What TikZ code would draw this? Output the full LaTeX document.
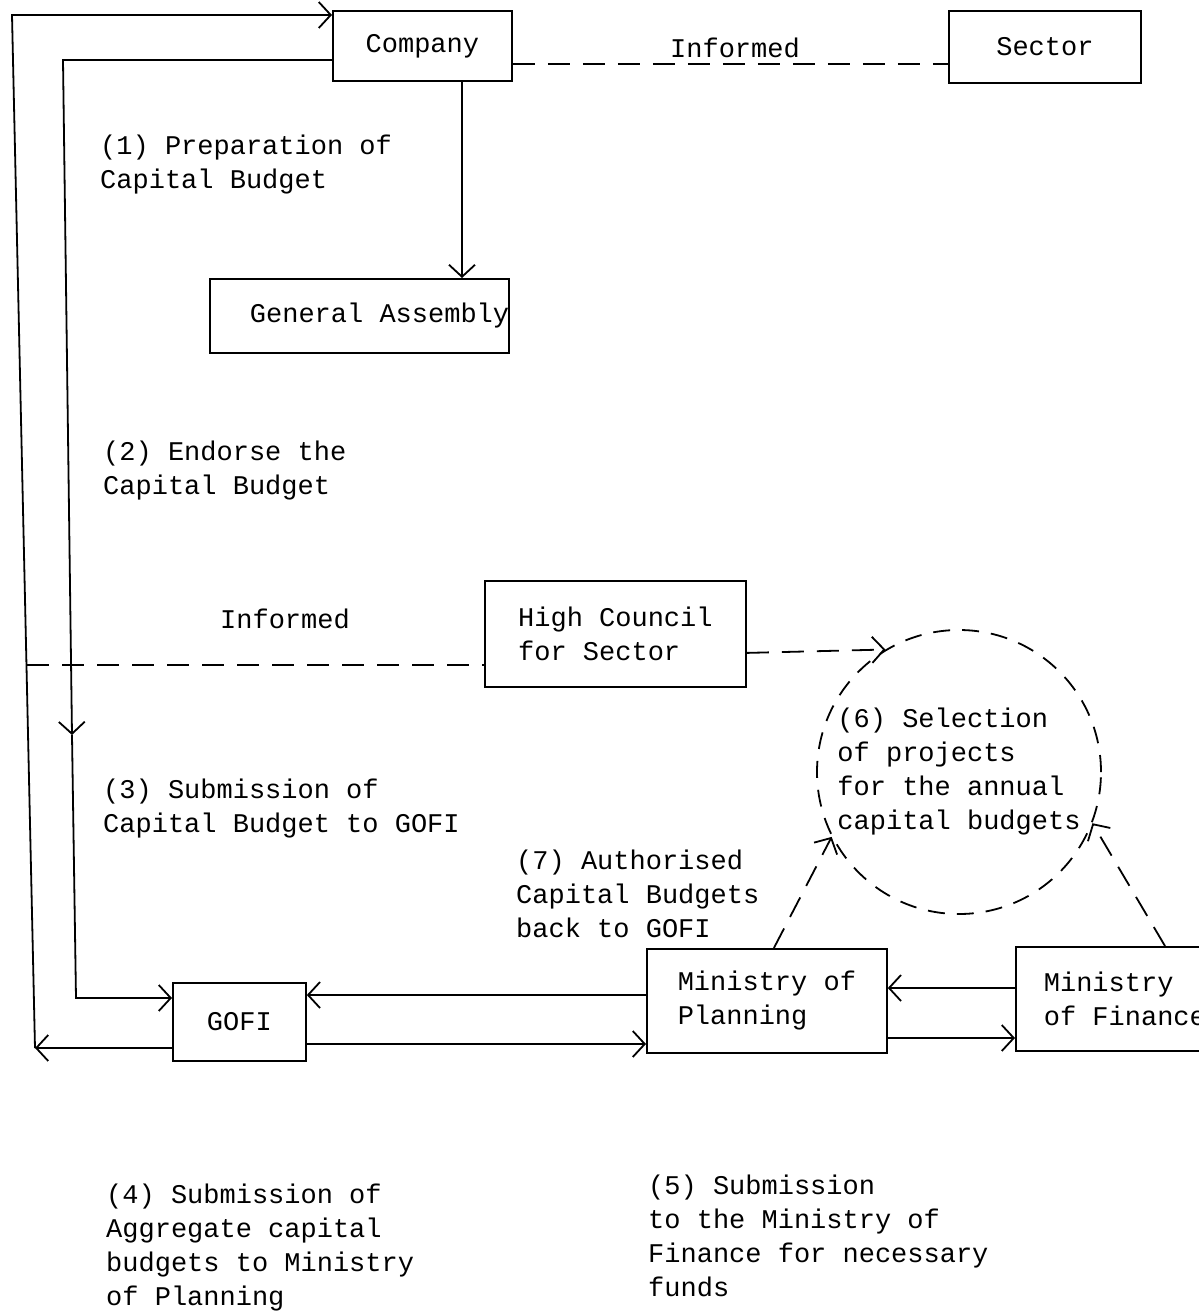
\documentclass[tikz,border=0pt]{standalone}
\usepackage{fontspec}
\setmonofont{Liberation Mono}
\usetikzlibrary{arrows.meta}
\begin{document}
\begin{tikzpicture}[x=1pt,y=-1pt,
  font=\ttfamily\fontsize{27pt}{34pt}\selectfont,
  box/.style={draw, line width=1.8pt, inner sep=0pt, anchor=north west, align=left},
  tip/.style={-{Straight Barb[length=12pt, width=26pt, line width=1.8pt]}},
  arr/.style={line width=1.8pt, tip},
  dsh/.style={line width=1.8pt, dash pattern=on 22pt off 13pt},
  dsharr/.style={dsh, tip},
  lbl/.style={anchor=base west, align=left, inner sep=0pt}]
\useasboundingbox (0,0) rectangle (1199,1315);

% organisations
\node[box, minimum width=179pt, minimum height=70pt] (company) at (332,10) {Company};
\node[box, minimum width=192pt, minimum height=72pt] (sector) at (948,10) {Sector};
\node[box, minimum width=299pt, minimum height=74pt] (ga) at (209,278) {\hspace*{40pt}General Assembly};
\node[box, minimum width=261pt, minimum height=106pt] (hc) at (484,580) {High Council\\for Sector};
\node[box, minimum width=133pt, minimum height=78pt] (gofi) at (172,982) {GOFI};
\node[box, minimum width=240pt, minimum height=104pt] (mop) at (646,948) {Ministry of\\Planning};
\node[box, minimum width=218pt, minimum height=104pt] (mof) at (1015,946) {Ministry\\of Finance};
\node[draw, circle, inner sep=0pt, minimum size=284pt, line width=1.8pt, dash pattern=on 17pt off 12pt, align=left] (sel) at (959,772)
  {(6) Selection\\of projects\\for the annual\\capital budgets};

% helper points of the two loops on the left
\coordinate (oTop) at (12,15);
\coordinate (oBot) at (35,1048);
\coordinate (iTop) at (63,60);
\coordinate (iMid) at (72,735);
\coordinate (iBot) at (76,998);
\coordinate (dL) at (27,665);
\coordinate (cg) at (462,0);
\coordinate (gt) at (0,995);
\coordinate (gb) at (0,1044);
\coordinate (ft) at (0,988);
\coordinate (fb) at (0,1038);

% company -> general assembly
\draw[arr] (company.south -| cg) -- (ga.north -| cg);
% company informs sector
\draw[dsh] ([yshift=-18pt]company.east) -- ([yshift=-18pt]company.east -| sector.west);
\node[anchor=base, inner sep=0pt] (inf1) at (735,57) {Informed};

% inner loop: company -> gofi
\draw[arr] (company.west |- iTop) -- (iTop) -- (iMid);
\draw[arr] (iMid) -- (iBot) -- (gofi.west |- iBot);
% outer loop: gofi -> company
\draw[arr] (gofi.west |- oBot) -- (oBot);
\draw[arr] (oBot) -- (oTop) -- (company.west |- oTop);

% high council informed
\draw[dsh] (dL) -- (hc.west |- dL);
\node[anchor=base, inner sep=0pt] (inf2) at (285,628) {Informed};
\draw[dsharr] ([yshift=-19pt]hc.east) -- (sel.121);

% gofi <-> ministry of planning
\draw[arr] (mop.west |- gt) -- (gofi.east |- gt);
\draw[arr] (gofi.east |- gb) -- (mop.west |- gb);
% ministry of planning <-> ministry of finance
\draw[arr] (mof.west |- ft) -- (mop.east |- ft);
\draw[arr] (mop.east |- fb) -- (mof.west |- fb);

% ministries -> selection
\draw[dsharr] ([xshift=7pt]mop.north) -- (sel.207);
\draw[dsharr] ([xshift=150pt]mof.north west) -- (sel.339);

% step labels (anchored at the baseline of their last line)
\node[lbl] (s1) at (100,188) {(1) Preparation of\\Capital Budget};
\node[lbl] (s2) at (103,494) {(2) Endorse the\\Capital Budget};
\node[lbl] (s3) at (103,832) {(3) Submission of\\Capital Budget to GOFI};
\node[lbl] (s7) at (516,937) {(7) Authorised\\Capital Budgets\\back to GOFI};
\node[lbl] (s4) at (106,1305) {(4) Submission of\\Aggregate capital\\budgets to Ministry\\of Planning};
\node[lbl] (s5) at (648,1296) {(5) Submission\\to the Ministry of\\Finance for necessary\\funds};
\end{tikzpicture}
\end{document}
